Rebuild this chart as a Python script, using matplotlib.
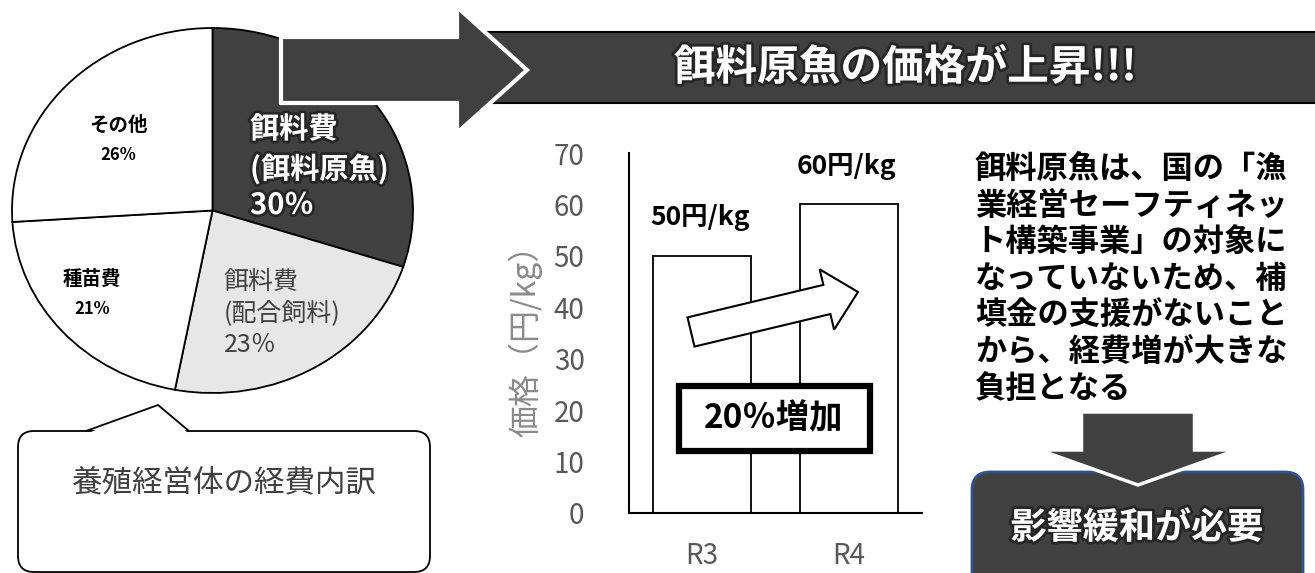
import matplotlib
matplotlib.use('Agg')
import matplotlib.pyplot as plt
import matplotlib.patheffects as pe
from matplotlib.patches import FancyArrow, FancyBboxPatch, Rectangle, Polygon

plt.rcParams['font.family'] = ['Noto Sans CJK JP', 'DejaVu Sans']

# --- data ---
cost_names = ['餌料費\n(餌料原魚)', '餌料費\n(配合飼料)', '種苗費', 'その他']
cost_shares = [30, 23, 21, 26]
cost_colors = ['#404040', '#e7e7e7', 'white', 'white']

years = ['R3', 'R4']
prices = [50, 60]
increase_pct = 20

title_text = '餌料原魚の価格が上昇!!!'
note_lines = ['餌料原魚は、国の「漁', '業経営セーフティネッ', 'ト構築事業」の対象に',
              'なっていないため、補', '填金の支援がないこと', 'から、経費増が大きな', '負担となる']
result_text = '影響緩和が必要'
caption_text = '養殖経営体の経費内訳'

W, H = 1315, 573
fig = plt.figure(figsize=(W / 100, H / 100), dpi=100)
DARK = '#404040'
glow = [pe.withStroke(linewidth=4, foreground='#151515', alpha=0.6)]


def px_axes(x0, y0, x1, y1, z=1):
    return fig.add_axes([x0 / W, 1 - y1 / H, (x1 - x0) / W, (y1 - y0) / H], zorder=z)


def pixel_layer(z):
    ax = fig.add_axes([0, 0, 1, 1], zorder=z)
    ax.set_xlim(0, W)
    ax.set_ylim(H, 0)
    ax.axis('off')
    return ax


bg = pixel_layer(0)
top = pixel_layer(5)

# --- pie chart (slightly elliptical like the original) ---
ax_pie = px_axes(12, 28, 413, 393)
wedges, _ = ax_pie.pie(cost_shares, colors=cost_colors, startangle=90, counterclock=False,
                       wedgeprops=dict(edgecolor='black', linewidth=1.3))
ax_pie.set_aspect('auto')
ax_pie.set_xlim(-1, 1)
ax_pie.set_ylim(-1, 1)
for w in wedges:
    w.set_clip_on(False)

# slice labels
main_lines = cost_names[0].split('\n') + [f'{cost_shares[0]}％']
for txt, y in zip(main_lines, [129, 169, 205]):
    top.text(250, y, txt, color='white', fontsize=21, fontweight='bold',
             ha='left', va='center', path_effects=glow)
sub_lines = cost_names[1].split('\n') + [f'{cost_shares[1]}％']
for txt, y in zip(sub_lines, [282, 313, 345]):
    top.text(224, y, txt, color=DARK, fontsize=18, ha='left', va='center')
top.text(118, 125, cost_names[3], fontsize=14, fontweight='bold', ha='center', va='center')
top.text(118, 155, f'{cost_shares[3]}%', fontsize=12, fontweight='bold', ha='center', va='center')
top.text(92, 279, cost_names[2], fontsize=14, fontweight='bold', ha='center', va='center')
top.text(92, 309, f'{cost_shares[2]}%', fontsize=12, fontweight='bold', ha='center', va='center')

# callout under the pie
bg.add_patch(FancyBboxPatch((18, 431), 412, 141, boxstyle='round,pad=0,rounding_size=16',
                            fc='white', ec='black', lw=1.3))
bg.add_patch(Polygon([(86, 434), (158, 405), (189, 434)], closed=True, fc='white', ec='none'))
bg.plot([86, 158, 189], [431, 405, 431], color='black', lw=1.3)
bg.text(224, 483, caption_text, color=DARK, fontsize=22, ha='center', va='center')

# --- title band and big arrow ---
top.add_patch(Rectangle((475, 32), 845, 71, fc=DARK, ec='black', lw=1.5))
top.add_patch(FancyArrow(281, 70, 246, 0, width=66, head_width=126, head_length=70,
                         length_includes_head=True, fc=DARK, ec='white', lw=3))
top.text(905, 68, title_text, color='white', fontsize=30, fontweight='bold',
         ha='center', va='center', path_effects=glow)

# --- bar chart ---
ax_bar = px_axes(629, 153, 922, 513)
xs = list(range(len(years)))
bars = ax_bar.bar(xs, prices, width=0.67, color='white', edgecolor='black', linewidth=1.3)
ax_bar.set_xlim(-0.5, 1.5)
ax_bar.set_ylim(0, 70)
ax_bar.set_yticks(range(0, 71, 10))
ax_bar.set_xticks(xs)
ax_bar.set_xticklabels(years)
for s in ['top', 'right']:
    ax_bar.spines[s].set_visible(False)
for s in ['left', 'bottom']:
    ax_bar.spines[s].set_linewidth(1.5)
ax_bar.tick_params(axis='y', length=0, pad=32, labelsize=20, labelcolor='#595959')
ax_bar.tick_params(axis='x', length=0, pad=20, labelsize=20, labelcolor='#595959')
ax_bar.set_ylabel('価格（円/kg）', fontsize=23, color='#8a8a8a', labelpad=8)
for b, v in zip(bars, prices):
    ax_bar.annotate(f'{v}円/kg', (b.get_x() + b.get_width() / 2, v), xytext=(-2, 38),
                    textcoords='offset pixels', ha='center', va='center',
                    fontsize=19, fontweight='bold', annotation_clip=False)

top.add_patch(FancyArrow(691, 332, 167, -40, width=30, head_width=62, head_length=32,
                         length_includes_head=True, fc='white', ec='black', lw=1.5))
top.add_patch(Rectangle((679, 386), 191, 65, fc='white', ec='black', lw=4.5))
top.text(774, 419, f'{increase_pct}％増加', fontsize=24, fontweight='bold',
         ha='center', va='center')

# --- right-hand note ---
for i, line in enumerate(note_lines):
    top.text(975, 169 + i * 36.7, line, fontsize=22.5, fontweight='bold',
             ha='left', va='center')

top.add_patch(FancyBboxPatch((972, 472), 331, 130, boxstyle='round,pad=0,rounding_size=18',
                             fc=DARK, ec='#2F528F', lw=2))
top.add_patch(FancyArrow(1138, 412, 0, 73, width=113, head_width=197, head_length=35,
                         length_includes_head=True, fc=DARK, ec='white', lw=2.5))
top.text(1137, 528, result_text, color='white', fontsize=26, fontweight='bold',
         ha='center', va='center', path_effects=glow)

fig.savefig('out.png', dpi=100)
